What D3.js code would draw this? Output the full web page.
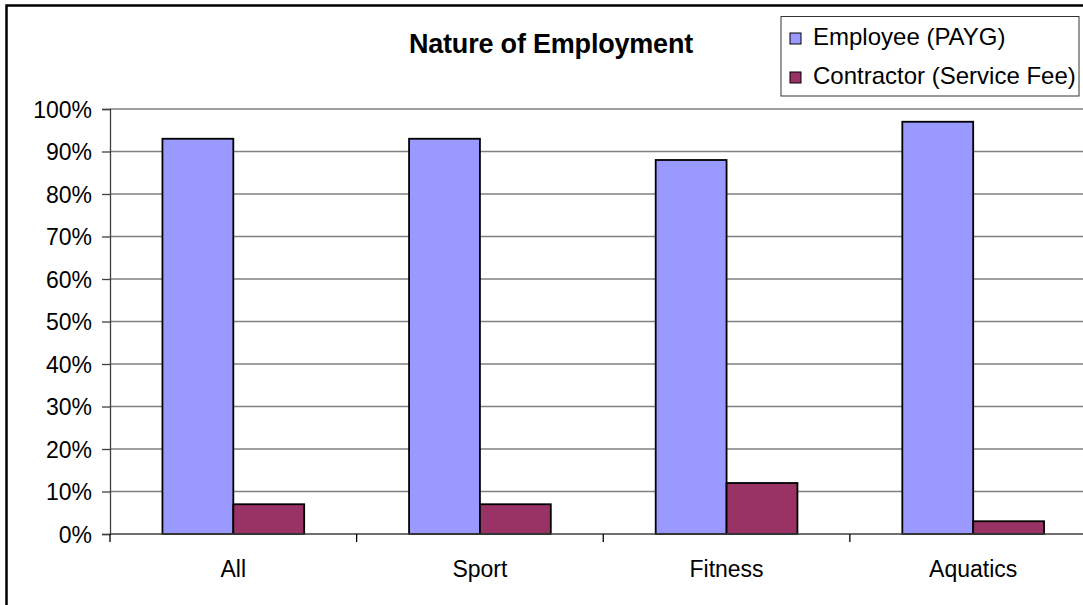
<!DOCTYPE html>
<html>
<head>
<meta charset="utf-8">
<script src="https://cdn.jsdelivr.net/npm/d3@7"></script>
<style>
  html, body { margin: 0; padding: 0; background: #fff; }
  svg { display: block; font-family: "Liberation Sans", Arial, sans-serif; }
</style>
</head>
<body>
<svg id="chart" width="1083" height="605"></svg>
<script>
const categories = ["All", "Sport", "Fitness", "Aquatics"];
const seriesNames = ["Employee (PAYG)", "Contractor (Service Fee)"];
const employeeValues = [93, 93, 88, 97];
const contractorValues = [7, 7, 12, 3];
const yTicks = [0, 10, 20, 30, 40, 50, 60, 70, 80, 90, 100];
const seriesColors = ["#9999FF", "#993366"];
const chartTitle = "Nature of Employment";

const seriesValues = [employeeValues, contractorValues];
const data = categories.map((c, i) => ({
  category: c,
  values: seriesNames.map((s, j) => ({ series: s, value: seriesValues[j][i] }))
}));

const svg = d3.select("#chart");

const plotLeft = 110, plotRight = 1096.5, plotTop = 109, plotBottom = 534;

const x0 = d3.scaleBand().domain(categories).range([plotLeft, plotRight]).padding(0);
const x1 = d3.scaleBand().domain(seriesNames).range([0, x0.bandwidth()])
  .paddingInner(0).paddingOuter(0.74);
const y = d3.scaleLinear().domain([0, 100]).range([plotBottom, plotTop]);
const color = d3.scaleOrdinal().domain(seriesNames).range(seriesColors);

// outer border
svg.append("rect")
  .attr("x", 6.5).attr("y", 5.5)
  .attr("width", 1200).attr("height", 700)
  .attr("fill", "#fff").attr("stroke", "#000").attr("stroke-width", 2.5);

// gridlines
svg.append("g")
  .selectAll("line")
  .data(yTicks.filter(d => d > 0))
  .join("line")
  .attr("x1", plotLeft).attr("x2", plotRight)
  .attr("y1", d => y(d)).attr("y2", d => y(d))
  .attr("stroke", "#808080").attr("stroke-width", 1.3);

// y axis
const yAxis = d3.axisLeft(y).tickValues(yTicks).tickFormat(d => d + "%").tickSizeOuter(0).tickSize(8).tickPadding(10);
const gy = svg.append("g").attr("transform", `translate(${plotLeft},0)`).call(yAxis);
gy.select(".domain").attr("stroke", "#404040").attr("stroke-width", 1.3);
gy.selectAll(".tick line").attr("stroke", "#404040").attr("stroke-width", 1.3);
gy.selectAll(".tick text")
  .attr("fill", "#000")
  .style("font-size", "23px")
  .style("font-family", "'Liberation Sans', Arial, sans-serif")
  .attr("dy", "0.36em");

// bars
const groups = svg.append("g")
  .selectAll("g")
  .data(data)
  .join("g")
  .attr("transform", d => `translate(${x0(d.category)},0)`);

groups.selectAll("rect")
  .data(d => d.values)
  .join("rect")
  .attr("x", d => x1(d.series))
  .attr("width", x1.bandwidth())
  .attr("y", d => y(d.value))
  .attr("height", d => y(0) - y(d.value))
  .attr("fill", d => color(d.series))
  .attr("stroke", "#000")
  .attr("stroke-width", 1.8);

// x axis
const boundaries = categories.map(c => x0(c));
const xAxisG = svg.append("g");
xAxisG.append("line")
  .attr("x1", plotLeft).attr("x2", plotRight)
  .attr("y1", plotBottom).attr("y2", plotBottom)
  .attr("stroke", "#404040").attr("stroke-width", 1.5);
xAxisG.selectAll("line.tk")
  .data(boundaries.concat([plotRight]))
  .join("line")
  .attr("class", "tk")
  .attr("x1", d => d).attr("x2", d => d)
  .attr("y1", plotBottom).attr("y2", plotBottom + 8)
  .attr("stroke", "#000").attr("stroke-width", 1.3);
xAxisG.selectAll("text")
  .data(categories)
  .join("text")
  .attr("x", d => x0(d) + x0.bandwidth() / 2)
  .attr("y", 577)
  .attr("text-anchor", "middle")
  .style("font-size", "23px")
  .attr("fill", "#000")
  .text(d => d);

// title
svg.append("text")
  .attr("x", 551).attr("y", 53)
  .attr("text-anchor", "middle")
  .style("font-size", "27px")
  .style("font-weight", "bold")
  .style("letter-spacing", "-0.2px")
  .attr("fill", "#000")
  .text(chartTitle);

// legend
const legend = svg.append("g");
legend.append("rect")
  .attr("x", 781).attr("y", 16.5)
  .attr("width", 298).attr("height", 79.5)
  .attr("fill", "#fff").attr("stroke", "#333").attr("stroke-width", 1);
const items = legend.selectAll("g.item")
  .data(seriesNames)
  .join("g")
  .attr("class", "item")
  .attr("transform", (d, i) => `translate(790,${33 + i * 39})`);
items.append("rect")
  .attr("x", 0).attr("y", 0)
  .attr("width", 11).attr("height", 11)
  .attr("fill", d => color(d))
  .attr("stroke", "#000").attr("stroke-width", 1);
items.append("text")
  .attr("x", 23).attr("y", 11.5)
  .style("font-size", "24px")
  .attr("fill", "#000")
  .text(d => d);
</script>
</body>
</html>
